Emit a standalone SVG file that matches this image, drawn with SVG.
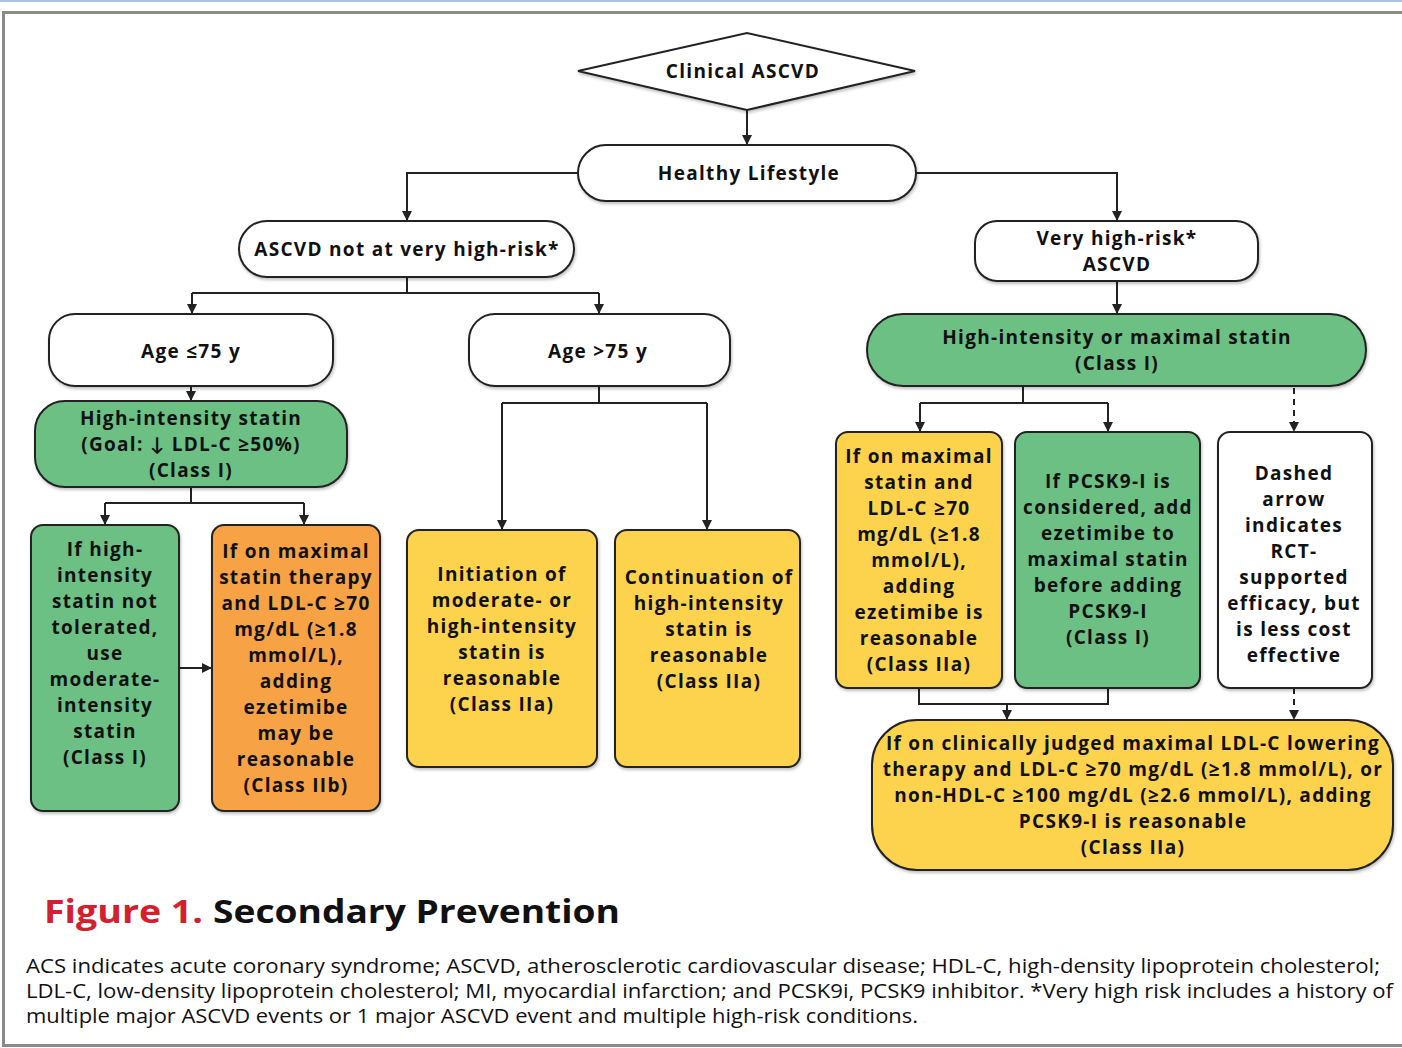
<svg xmlns="http://www.w3.org/2000/svg" width="1402" height="1048" viewBox="0 0 1402 1048">
<defs>
<marker id="ah" viewBox="0 0 10 10" refX="10" refY="5" markerWidth="5" markerHeight="5" orient="auto" markerUnits="strokeWidth">
<path d="M0,0 L10,5 L0,10 z" fill="#222"/>
</marker>
<filter id="sh" x="-5%" y="-5%" width="110%" height="115%">
<feDropShadow dx="1" dy="2" stdDeviation="1.5" flood-color="#000" flood-opacity="0.25"/>
</filter>
</defs>
<style>
.n{stroke:#222;stroke-width:2;filter:url(#sh)}
.w{fill:#fff}
.g{fill:#6cc084}
.y{fill:#fdd34e}
.o{fill:#f7a244}
.t{font-family:"Open Sans",Lato,sans-serif;font-weight:bold;font-size:19px;letter-spacing:1.3px;fill:#111;text-anchor:middle}
.c{fill:none;stroke:#222;stroke-width:2}
.d{stroke-dasharray:6,5}
.cap{font-family:"Open Sans",Lato,sans-serif;font-size:20px;fill:#111}
.ttl{font-family:"Open Sans",Lato,sans-serif;font-size:33px;font-weight:bold}
</style>
<rect x="0" y="0" width="1402" height="1048" fill="#fff"/>
<rect x="0" y="0" width="1402" height="2" fill="#a9c2ec"/>
<rect x="3.5" y="12.5" width="1410" height="1033" fill="none" stroke="#8a8a8a" stroke-width="3"/>

<g id="connectors">
<path class="c" d="M747,110 V145" marker-end="url(#ah)"/>
<path class="c" d="M578,173 H407 V221" marker-end="url(#ah)"/>
<path class="c" d="M916,173 H1117 V221" marker-end="url(#ah)"/>
<path class="c" d="M407,277 V293"/>
<path class="c" d="M192,293 H599"/>
<path class="c" d="M192,293 V314" marker-end="url(#ah)"/>
<path class="c" d="M599,293 V314" marker-end="url(#ah)"/>
<path class="c" d="M191,386 V401" marker-end="url(#ah)"/>
<path class="c" d="M191,487 V503"/>
<path class="c" d="M105,503 H304"/>
<path class="c" d="M105,503 V525" marker-end="url(#ah)"/>
<path class="c" d="M304,503 V525" marker-end="url(#ah)"/>
<path class="c" d="M179,668 H212" marker-end="url(#ah)"/>
<path class="c" d="M599,386 V403"/>
<path class="c" d="M502,403 H707"/>
<path class="c" d="M502,403 V530" marker-end="url(#ah)"/>
<path class="c" d="M707,403 V530" marker-end="url(#ah)"/>
<path class="c" d="M1117,281 V314" marker-end="url(#ah)"/>
<path class="c" d="M1023,386 V403"/>
<path class="c" d="M920,403 H1108"/>
<path class="c" d="M920,403 V432" marker-end="url(#ah)"/>
<path class="c" d="M1108,403 V432" marker-end="url(#ah)"/>
<path class="c d" d="M1294,388 V432" marker-end="url(#ah)"/>
<path class="c" d="M919,688 V704 H1108 V688"/>
<path class="c" d="M1007,704 V720" marker-end="url(#ah)"/>
<path class="c d" d="M1294,688 V720" marker-end="url(#ah)"/>
</g>

<g id="clinical-ascvd">
<polygon class="n w" points="578,71 747,33 915,71 747,110"/>
<text class="t" x="743" y="78" font-size="20.5">Clinical ASCVD</text>
</g>
<g id="healthy-lifestyle">
<rect class="n w" x="578" y="145" width="338" height="56" rx="28"/>
<text class="t" x="749" y="180">Healthy Lifestyle</text>
</g>
<g id="not-very-high-risk">
<rect class="n w" x="239" y="221" width="335" height="56" rx="28"/>
<text class="t" x="407" y="256">ASCVD not at very high-risk*</text>
</g>
<g id="very-high-risk">
<rect class="n w" x="975" y="221" width="283" height="60" rx="22"/>
<text class="t" x="1117" y="245">Very high-risk*</text>
<text class="t" x="1117" y="271">ASCVD</text>
</g>
<g id="age-le-75">
<rect class="n w" x="49" y="314" width="284" height="72" rx="26"/>
<text class="t" x="191" y="358">Age ≤75 y</text>
</g>
<g id="age-gt-75">
<rect class="n w" x="469" y="314" width="261" height="72" rx="26"/>
<text class="t" x="598" y="358">Age &gt;75 y</text>
</g>
<g id="high-intensity-statin">
<rect class="n g" x="35" y="401" width="312" height="86" rx="30"/>
<text class="t" x="191" y="425">High-intensity statin</text>
<text class="t" x="191" y="451">(Goal: ↓ LDL-C ≥50%)</text>
<text class="t" x="191" y="477">(Class I)</text>
</g>
<g id="moderate-intensity">
<rect class="n g" x="31" y="525" width="148" height="286" rx="12"/>
<text class="t" x="105" y="556">If high-</text>
<text class="t" x="105" y="582">intensity</text>
<text class="t" x="105" y="608">statin not</text>
<text class="t" x="105" y="634">tolerated,</text>
<text class="t" x="105" y="660">use</text>
<text class="t" x="105" y="686">moderate-</text>
<text class="t" x="105" y="712">intensity</text>
<text class="t" x="105" y="738">statin</text>
<text class="t" x="105" y="764">(Class I)</text>
</g>
<g id="ezetimibe-iib">
<rect class="n o" x="212" y="525" width="168" height="286" rx="12"/>
<text class="t" x="296" y="558">If on maximal</text>
<text class="t" x="296" y="584">statin therapy</text>
<text class="t" x="296" y="610">and LDL-C ≥70</text>
<text class="t" x="296" y="636">mg/dL (≥1.8</text>
<text class="t" x="296" y="662">mmol/L),</text>
<text class="t" x="296" y="688">adding</text>
<text class="t" x="296" y="714">ezetimibe</text>
<text class="t" x="296" y="740">may be</text>
<text class="t" x="296" y="766">reasonable</text>
<text class="t" x="296" y="792">(Class IIb)</text>
</g>
<g id="initiation">
<rect class="n y" x="407" y="530" width="190" height="237" rx="12"/>
<text class="t" x="502" y="581">Initiation of</text>
<text class="t" x="502" y="607">moderate- or</text>
<text class="t" x="502" y="633">high-intensity</text>
<text class="t" x="502" y="659">statin is</text>
<text class="t" x="502" y="685">reasonable</text>
<text class="t" x="502" y="711">(Class IIa)</text>
</g>
<g id="continuation">
<rect class="n y" x="615" y="530" width="185" height="237" rx="12"/>
<text class="t" x="709" y="584">Continuation of</text>
<text class="t" x="709" y="610">high-intensity</text>
<text class="t" x="709" y="636">statin is</text>
<text class="t" x="709" y="662">reasonable</text>
<text class="t" x="709" y="688">(Class IIa)</text>
</g>
<g id="maximal-statin">
<rect class="n g" x="867" y="314" width="499" height="72" rx="36"/>
<text class="t" x="1117" y="344">High-intensity or maximal statin</text>
<text class="t" x="1117" y="370">(Class I)</text>
</g>
<g id="ezetimibe-iia">
<rect class="n y" x="836" y="432" width="166" height="256" rx="12"/>
<text class="t" x="919" y="463">If on maximal</text>
<text class="t" x="919" y="489">statin and</text>
<text class="t" x="919" y="515">LDL-C ≥70</text>
<text class="t" x="919" y="541">mg/dL (≥1.8</text>
<text class="t" x="919" y="567">mmol/L),</text>
<text class="t" x="919" y="593">adding</text>
<text class="t" x="919" y="619">ezetimibe is</text>
<text class="t" x="919" y="645">reasonable</text>
<text class="t" x="919" y="671">(Class IIa)</text>
</g>
<g id="pcsk9-considered">
<rect class="n g" x="1015" y="432" width="185" height="256" rx="12"/>
<text class="t" x="1108" y="488">If PCSK9-I is</text>
<text class="t" x="1108" y="514">considered, add</text>
<text class="t" x="1108" y="540">ezetimibe to</text>
<text class="t" x="1108" y="566">maximal statin</text>
<text class="t" x="1108" y="592">before adding</text>
<text class="t" x="1108" y="618">PCSK9-I</text>
<text class="t" x="1108" y="644">(Class I)</text>
</g>
<g id="dashed-note">
<rect class="n w" x="1218" y="432" width="154" height="256" rx="12"/>
<text class="t" x="1294" y="480">Dashed</text>
<text class="t" x="1294" y="506">arrow</text>
<text class="t" x="1294" y="532">indicates</text>
<text class="t" x="1294" y="558">RCT-</text>
<text class="t" x="1294" y="584">supported</text>
<text class="t" x="1294" y="610">efficacy, but</text>
<text class="t" x="1294" y="636">is less cost</text>
<text class="t" x="1294" y="662">effective</text>
</g>
<g id="pcsk9-reasonable">
<rect class="n y" x="872" y="720" width="521" height="150" rx="45"/>
<text class="t" x="1133" y="750">If on clinically judged maximal LDL-C lowering</text>
<text class="t" x="1133" y="776">therapy and LDL-C ≥70 mg/dL (≥1.8 mmol/L), or</text>
<text class="t" x="1133" y="802">non-HDL-C ≥100 mg/dL (≥2.6 mmol/L), adding</text>
<text class="t" x="1133" y="828">PCSK9-I is reasonable</text>
<text class="t" x="1133" y="854">(Class IIa)</text>
</g>

<g id="caption">
<text class="ttl" x="44" y="923" fill="#d3202f" textLength="159" lengthAdjust="spacingAndGlyphs">Figure 1.</text>
<text class="ttl" x="213" y="923" fill="#111" textLength="407" lengthAdjust="spacingAndGlyphs">Secondary Prevention</text>
<text class="cap" x="26" y="973" textLength="1354" lengthAdjust="spacingAndGlyphs">ACS indicates acute coronary syndrome; ASCVD, atherosclerotic cardiovascular disease; HDL-C, high-density lipoprotein cholesterol;</text>
<text class="cap" x="26" y="998" textLength="1367" lengthAdjust="spacingAndGlyphs">LDL-C, low-density lipoprotein cholesterol; MI, myocardial infarction; and PCSK9i, PCSK9 inhibitor. *Very high risk includes a history of</text>
<text class="cap" x="26" y="1023" textLength="892" lengthAdjust="spacingAndGlyphs">multiple major ASCVD events or 1 major ASCVD event and multiple high-risk conditions.</text>
</g>
</svg>
